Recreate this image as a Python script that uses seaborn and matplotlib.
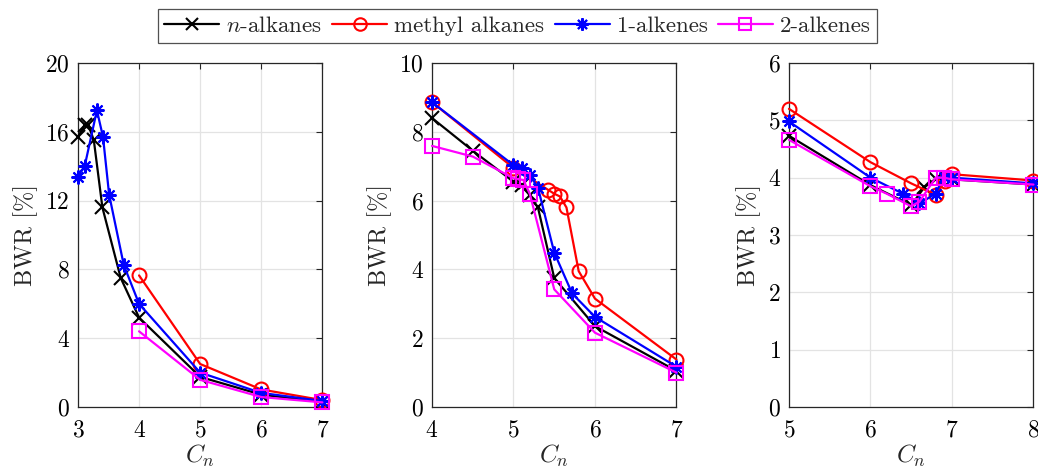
import matplotlib
matplotlib.use("Agg")
import matplotlib.pyplot as plt
from matplotlib.lines import Line2D
import seaborn as sns
import pandas as pd

# ---------------- data ----------------
series_names = ["$n$-alkanes", "methyl alkanes", "1-alkenes", "2-alkenes"]

# panel 1
p1_nalk_x = [3.0, 3.11, 3.17, 3.26, 3.40, 3.70, 4.0, 5.0, 6.0, 7.0]
p1_nalk_y = [15.7, 16.4, 16.4, 15.5, 11.6, 7.5, 5.2, 1.75, 0.72, 0.3]
p1_meth_x = [4.0, 5.0, 6.0, 7.0]
p1_meth_y = [7.65, 2.5, 1.02, 0.4]
p1_alk1_x = [3.0, 3.11, 3.31, 3.41, 3.51, 3.75, 4.0, 5.0, 6.0, 7.0]
p1_alk1_y = [13.4, 14.0, 17.25, 15.7, 12.35, 8.25, 6.0, 2.0, 0.82, 0.35]
p1_alk2_x = [4.0, 5.0, 6.0, 7.0]
p1_alk2_y = [4.4, 1.58, 0.58, 0.27]

# panel 2
p2_nalk_x = [4.0, 4.5, 5.0, 5.1, 5.2, 5.3, 5.5, 6.0, 7.0]
p2_nalk_y = [8.4, 7.45, 6.55, 6.45, 6.15, 5.8, 3.75, 2.35, 1.05]
p2_meth_x = [4.0, 5.0, 5.42, 5.5, 5.57, 5.65, 5.8, 6.0, 7.0]
p2_meth_y = [8.86, 6.95, 6.32, 6.2, 6.12, 5.8, 3.95, 3.15, 1.38]
p2_alk1_x = [4.0, 5.0, 5.1, 5.2, 5.3, 5.5, 5.72, 6.0, 7.0]
p2_alk1_y = [8.86, 7.03, 6.94, 6.74, 6.38, 4.49, 3.3, 2.62, 1.17]
p2_alk2_x = [4.0, 4.5, 5.0, 5.06, 5.12, 5.2, 5.5, 6.0, 7.0]
p2_alk2_y = [7.59, 7.28, 6.65, 6.62, 6.6, 6.2, 3.42, 2.16, 1.0]

# panel 3
p3_nalk_x = [5.0, 6.0, 6.5, 6.66, 6.8, 7.0, 8.0]
p3_nalk_y = [4.73, 3.87, 3.52, 3.83, 3.98, 3.97, 3.88]
p3_meth_x = [5.0, 6.0, 6.5, 6.8, 6.92, 7.0, 8.0]
p3_meth_y = [5.2, 4.27, 3.9, 3.7, 3.95, 4.06, 3.95]
p3_alk1_x = [5.0, 6.0, 6.4, 6.6, 6.8, 6.9, 7.0, 8.0]
p3_alk1_y = [4.98, 4.0, 3.72, 3.55, 3.72, 4.02, 4.0, 3.9]
p3_alk2_x = [5.0, 6.0, 6.2, 6.5, 6.6, 6.8, 6.9, 7.0, 8.0]
p3_alk2_y = [4.66, 3.85, 3.72, 3.5, 3.58, 4.0, 4.0, 3.97, 3.88]

p1_xticks = [3, 4, 5, 6, 7]
p1_yticks = [0, 4, 8, 12, 16, 20]
p2_xticks = [4, 5, 6, 7]
p2_yticks = [0, 2, 4, 6, 8, 10]
p3_xticks = [5, 6, 7, 8]
p3_yticks = [0, 1, 2, 3, 4, 5, 6]

# ---------------- style ----------------
sns.set_theme(style="white")
plt.rcParams["font.family"] = ["cmr10", "DejaVu Serif"]
plt.rcParams["mathtext.fontset"] = "cm"
plt.rcParams["axes.formatter.use_mathtext"] = True
plt.rcParams["axes.unicode_minus"] = False

colors = ["black", "red", "blue", "magenta"]
markers = ["x", "o", (8, 2, 0), "s"]
mfc = ["black", "none", "blue", "none"]

panels = [
    ([(p1_nalk_x, p1_nalk_y), (p1_meth_x, p1_meth_y), (p1_alk1_x, p1_alk1_y), (p1_alk2_x, p1_alk2_y)],
     p1_xticks, p1_yticks),
    ([(p2_nalk_x, p2_nalk_y), (p2_meth_x, p2_meth_y), (p2_alk1_x, p2_alk1_y), (p2_alk2_x, p2_alk2_y)],
     p2_xticks, p2_yticks),
    ([(p3_nalk_x, p3_nalk_y), (p3_meth_x, p3_meth_y), (p3_alk1_x, p3_alk1_y), (p3_alk2_x, p3_alk2_y)],
     p3_xticks, p3_yticks),
]

fig = plt.figure(figsize=(10.38, 4.70), dpi=100)
lefts = [0.0751, 0.4162, 0.7601]
W, B, H = 0.2355, 0.134, 0.732

for (series, xt, yt), left in zip(panels, lefts):
    ax = fig.add_axes([left, B, W, H])
    for i, (xs, ys) in enumerate(series):
        df = pd.DataFrame({"x": xs, "y": ys})
        sns.lineplot(data=df, x="x", y="y", ax=ax, color=colors[i],
                     marker=markers[i], markersize=10, markerfacecolor=mfc[i],
                     markeredgecolor=colors[i], markeredgewidth=1.5,
                     linewidth=1.6, estimator=None, sort=False, legend=False,
                     clip_on=False, zorder=3)
    ax.set_xlim(xt[0], xt[-1])
    ax.set_ylim(yt[0], yt[-1])
    ax.set_xticks(xt)
    ax.set_yticks(yt)
    ax.grid(True, color="#e3e3e3", linewidth=0.9)
    ax.set_axisbelow(True)
    for sp in ax.spines.values():
        sp.set_color("#262626")
        sp.set_linewidth(0.9)
    ax.tick_params(axis="y", direction="in", length=4, width=0.8, color="#262626",
                   right=True, labelsize=17, pad=6, labelcolor="black")
    ax.tick_params(axis="x", direction="in", length=4, width=0.8, color="#262626",
                   top=True, labelsize=17, pad=9, labelcolor="black")
    ax.set_xlabel("$C_n$", fontsize=18, labelpad=1)
    ax.set_ylabel("BWR [%]", fontsize=17.5, labelpad=5)

handles = [Line2D([], [], color=colors[i], marker=markers[i], markersize=9,
                  markerfacecolor=mfc[i], markeredgecolor=colors[i],
                  markeredgewidth=1.5, linewidth=1.6) for i in range(4)]
leg = fig.legend(handles, series_names, loc="upper center",
                 bbox_to_anchor=(0.4985, 0.985), ncol=4, frameon=True,
                 fancybox=False, edgecolor="#262626", fontsize=16.5,
                 handlelength=2.4, handletextpad=0.3, columnspacing=0.45,
                 borderpad=0.3, borderaxespad=0.1)
leg.get_frame().set_linewidth(0.9)

fig.savefig("out.png", dpi=100)
